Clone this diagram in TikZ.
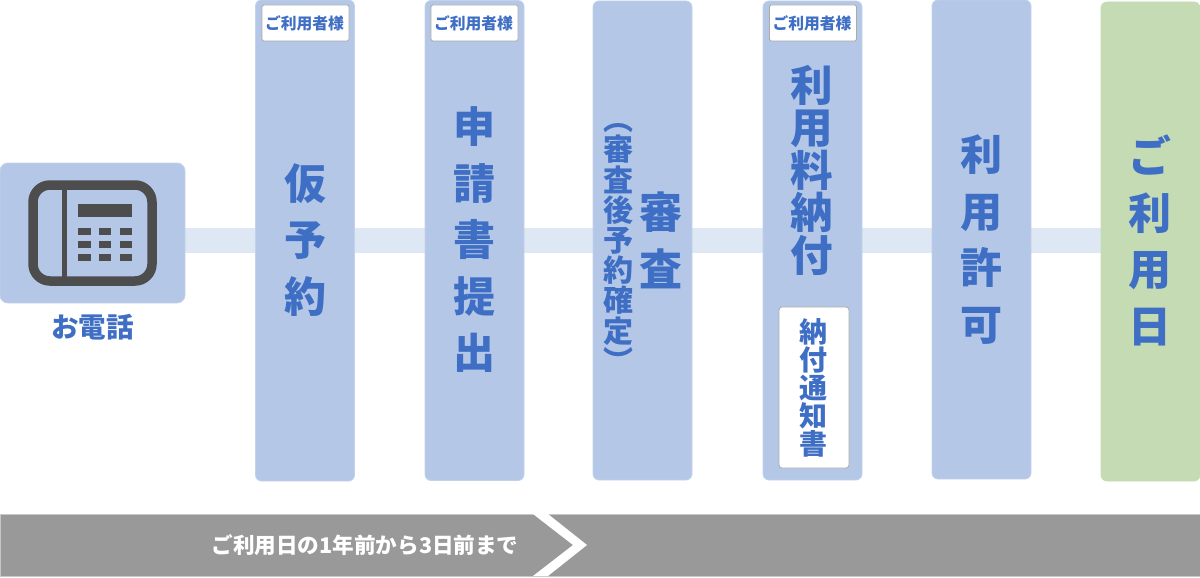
\documentclass[tikz,border=0pt]{standalone}
\usepackage{fontspec}
\setmainfont{Noto Sans CJK JP}
\usetikzlibrary{backgrounds}
\definecolor{barblue}{HTML}{B4C7E7}
\definecolor{barline}{HTML}{C3D2EB}
\definecolor{bandblue}{HTML}{DEE8F4}
\definecolor{txtblue}{HTML}{3F6FC4}
\definecolor{bargreen}{HTML}{C5DBB4}
\definecolor{icon}{HTML}{4D4D4D}
\definecolor{greybar}{HTML}{999999}
\newcommand{\fs}[2]{\fontsize{#1}{#2}\selectfont\bfseries\lineskiplimit=-100pt\relax}
\tikzset{
  column/.style={draw=barline,line width=0.8pt,fill=barblue,rounded corners=6pt,minimum width=99pt,inner sep=0pt},
  greencol/.style={column,draw=bargreen,fill=bargreen},
  tag/.style={draw=black!33,line width=0.8pt,fill=white,rounded corners=1.5pt,minimum width=87pt,minimum height=36pt,inner sep=0pt,text=txtblue,font=\fs{15.8}{20}},
  big/.style={inner sep=0pt,align=center,text=txtblue,font=\fs{42}{56.5}},
  band/.style={draw=bandblue,line width=25pt},
  keyrect/.style={fill=icon,draw=none}
}
\begin{document}
\begin{tikzpicture}[x=1pt,y=-1pt]
\useasboundingbox (0,0) rectangle (1200,578);
% phone box
\node[column,minimum width=185pt,minimum height=140pt,rounded corners=8pt] (phone) at (92.5,233) {};
\node[inner sep=0pt,text=txtblue,font=\fs{27.5}{30}] (phonetext) at (92.5,327) {お電話};
% phone icon
\draw[icon,line width=9.5pt,rounded corners=17pt] (33,185) rectangle (152,281);
\fill[icon] (62,185) rectangle (67,281);
\fill[icon] (78,204) rectangle (132,217);
\foreach \yy in {228,241,254}{
  \foreach \xx in {78,98.5,119.5}{
    \path[keyrect] (\xx,\yy) rectangle ++(12.5,6.5);
  }
}
% columns
\node[column,minimum height=481pt] (c1) at (305,240.5) {};
\node[column,minimum height=480pt] (c2) at (474.5,240.5) {};
\node[column,minimum height=479pt] (c3) at (642.5,240.5) {};
\node[column,minimum height=479pt] (c4) at (812.5,240.5) {};
\node[column,minimum height=479pt] (c5) at (981.5,239.5) {};
\node[greencol,minimum height=479pt] (c6) at (1150.5,241.5) {};
% tags
\node[tag] (t1) at (305.5,23) {\hspace{-2pt}ご利用者様};
\node[tag] (t2) at (474.5,23) {\hspace{-2pt}ご利用者様};
\node[tag] (t4) at (813,23) {\hspace{-2pt}ご利用者様};
% column texts
\node[big] (l1) at (305,240) {仮\\予\\約};
\node[big] (l2) at (474,240) {申\\請\\書\\提\\出};
\node[big,font=\fs{43}{57}] (l3) at (661,240.5) {審\\査};
\node[big,font=\fs{30}{30.2}] (l3b) at (618,248) {︵\\審\\査\\後\\予\\約\\確\\定\\︶};
\node[big,font=\fs{42.5}{42.5}] (l4) at (812,170) {利\\用\\料\\納\\付};
\node[draw=black!33,line width=0.8pt,fill=white,rounded corners=3pt,minimum width=70pt,minimum height=161pt,inner sep=0pt] (notice) at (814,387.5) {};
\node[big,font=\fs{28}{28}] (l4b) at (813,388) {納\\付\\通\\知\\書};
\node[big] (l5) at (981,239.5) {利\\用\\許\\可};
\node[big,font=\fs{43}{56.5}] (l6) at (1150,240.5) {ご\\利\\用\\日};
% bottom bar
\node[draw=black!22,line width=0.6pt,fill=greybar,minimum width=1200pt,minimum height=62pt,inner sep=0pt] (bottom) at (600,545) {};
\fill[white] (533,514) -- (548,514) -- (587,545) -- (548,576) -- (533,576) -- (573,545) -- cycle;
\node[inner sep=0pt,text=white,font=\fs{21.6}{26}] (bottomtext) at (365,545) {ご利用日の1年前から3日前まで};
% connectors
\begin{scope}[on background layer]
\draw[band] (phone.east |- c1.center) -- (c1.center);
\draw[band] (c1.center) -- (c2.center);
\draw[band] (c2.center) -- (c3.center);
\draw[band] (c3.center) -- (c4.center);
\draw[band] (c4.center) -- (c5.center |- c4.center);
\draw[band] (c5.center |- c4.center) -- (c6.center |- c4.center);
\end{scope}
\end{tikzpicture}
\end{document}
